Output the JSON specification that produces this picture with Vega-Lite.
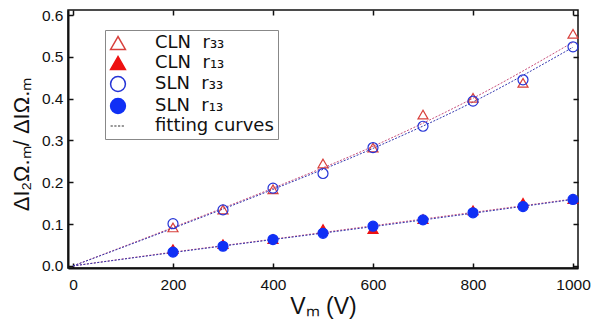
{
 "$schema": "https://vega.github.io/schema/vega-lite/v6.json",
 "width": 510, "height": 258,
 "autosize": "none",
 "padding": {"left": 68, "top": 10, "right": 14, "bottom": 52},
 "background": "white",
 "config": {
  "view": {"stroke": "#111", "strokeWidth": 1.5},
  "font": "Liberation Sans",
  "axis": {"grid": false, "domainColor": "#111", "tickColor": "#111", "labelColor": "#111", "titleColor": "#111", "labelFont": "Liberation Sans", "titleFont": "Liberation Sans", "titleFontWeight": "normal", "labelFontSize": 15.5, "titleFontSize": 22}
 },
 "datasets": {
  "pts": [
   {"v": 200, "y": 0.092, "s": "CLN\u00a0\u00a0r₃₃"}, {"v": 300, "y": 0.135, "s": "CLN\u00a0\u00a0r₃₃"}, {"v": 400, "y": 0.183, "s": "CLN\u00a0\u00a0r₃₃"}, {"v": 500, "y": 0.245, "s": "CLN\u00a0\u00a0r₃₃"}, {"v": 600, "y": 0.283, "s": "CLN\u00a0\u00a0r₃₃"}, {"v": 700, "y": 0.362, "s": "CLN\u00a0\u00a0r₃₃"}, {"v": 800, "y": 0.402, "s": "CLN\u00a0\u00a0r₃₃"}, {"v": 900, "y": 0.438, "s": "CLN\u00a0\u00a0r₃₃"}, {"v": 1000, "y": 0.555, "s": "CLN\u00a0\u00a0r₃₃"},
   {"v": 200, "y": 0.040, "s": "CLN\u00a0\u00a0r₁₃"}, {"v": 300, "y": 0.052, "s": "CLN\u00a0\u00a0r₁₃"}, {"v": 400, "y": 0.064, "s": "CLN\u00a0\u00a0r₁₃"}, {"v": 500, "y": 0.088, "s": "CLN\u00a0\u00a0r₁₃"}, {"v": 600, "y": 0.088, "s": "CLN\u00a0\u00a0r₁₃"}, {"v": 700, "y": 0.112, "s": "CLN\u00a0\u00a0r₁₃"}, {"v": 800, "y": 0.133, "s": "CLN\u00a0\u00a0r₁₃"}, {"v": 900, "y": 0.151, "s": "CLN\u00a0\u00a0r₁₃"}, {"v": 1000, "y": 0.160, "s": "CLN\u00a0\u00a0r₁₃"},
   {"v": 200, "y": 0.101, "s": "SLN\u00a0\u00a0r₃₃"}, {"v": 300, "y": 0.134, "s": "SLN\u00a0\u00a0r₃₃"}, {"v": 400, "y": 0.186, "s": "SLN\u00a0\u00a0r₃₃"}, {"v": 500, "y": 0.221, "s": "SLN\u00a0\u00a0r₃₃"}, {"v": 600, "y": 0.283, "s": "SLN\u00a0\u00a0r₃₃"}, {"v": 700, "y": 0.334, "s": "SLN\u00a0\u00a0r₃₃"}, {"v": 800, "y": 0.394, "s": "SLN\u00a0\u00a0r₃₃"}, {"v": 900, "y": 0.445, "s": "SLN\u00a0\u00a0r₃₃"}, {"v": 1000, "y": 0.524, "s": "SLN\u00a0\u00a0r₃₃"},
   {"v": 200, "y": 0.033, "s": "SLN\u00a0\u00a0r₁₃"}, {"v": 300, "y": 0.047, "s": "SLN\u00a0\u00a0r₁₃"}, {"v": 400, "y": 0.063, "s": "SLN\u00a0\u00a0r₁₃"}, {"v": 500, "y": 0.078, "s": "SLN\u00a0\u00a0r₁₃"}, {"v": 600, "y": 0.095, "s": "SLN\u00a0\u00a0r₁₃"}, {"v": 700, "y": 0.110, "s": "SLN\u00a0\u00a0r₁₃"}, {"v": 800, "y": 0.127, "s": "SLN\u00a0\u00a0r₁₃"}, {"v": 900, "y": 0.142, "s": "SLN\u00a0\u00a0r₁₃"}, {"v": 1000, "y": 0.159, "s": "SLN\u00a0\u00a0r₁₃"}
  ],
  "fit": [
   {"v": 0, "y": 0, "f": "CLN r33", "g": "CLN"}, {"v": 200, "y": 0.092, "f": "CLN r33", "g": "CLN"}, {"v": 400, "y": 0.186, "f": "CLN r33", "g": "CLN"}, {"v": 600, "y": 0.286, "f": "CLN r33", "g": "CLN"}, {"v": 800, "y": 0.401, "f": "CLN r33", "g": "CLN"}, {"v": 1000, "y": 0.535, "f": "CLN r33", "g": "CLN"},
   {"v": 0, "y": 0, "f": "CLN r13", "g": "CLN"}, {"v": 200, "y": 0.033, "f": "CLN r13", "g": "CLN"}, {"v": 400, "y": 0.064, "f": "CLN r13", "g": "CLN"}, {"v": 600, "y": 0.096, "f": "CLN r13", "g": "CLN"}, {"v": 800, "y": 0.128, "f": "CLN r13", "g": "CLN"}, {"v": 1000, "y": 0.160, "f": "CLN r13", "g": "CLN"},
   {"v": 0, "y": 0, "f": "SLN r33", "g": "SLN"}, {"v": 200, "y": 0.090, "f": "SLN r33", "g": "SLN"}, {"v": 400, "y": 0.183, "f": "SLN r33", "g": "SLN"}, {"v": 600, "y": 0.281, "f": "SLN r33", "g": "SLN"}, {"v": 800, "y": 0.392, "f": "SLN r33", "g": "SLN"}, {"v": 1000, "y": 0.523, "f": "SLN r33", "g": "SLN"},
   {"v": 0, "y": 0, "f": "SLN r13", "g": "SLN"}, {"v": 200, "y": 0.032, "f": "SLN r13", "g": "SLN"}, {"v": 400, "y": 0.063, "f": "SLN r13", "g": "SLN"}, {"v": 600, "y": 0.094, "f": "SLN r13", "g": "SLN"}, {"v": 800, "y": 0.126, "f": "SLN r13", "g": "SLN"}, {"v": 1000, "y": 0.159, "f": "SLN r13", "g": "SLN"}
  ]
 },
 "layer": [
  {
   "data": {"name": "fit"},
   "transform": [{"filter": "datum.g == 'CLN'"}],
   "mark": {"type": "line", "color": "#c8507c", "strokeWidth": 1, "strokeDash": [2, 1.5], "interpolate": "monotone"},
   "encoding": {
    "x": {"field": "v", "type": "quantitative", "scale": {"domain": [-10, 1010], "nice": false, "zero": false},
      "axis": {"orient": "bottom", "values": [0, 200, 400, 600, 800, 1000], "format": "d", "labelBound": false, "tickSize": -5, "tickWidth": 1.5, "domainWidth": 2, "labelPadding": 14, "title": "Vₘ (V)", "titleFontSize": 23, "titlePadding": 3}},
    "y": {"field": "y", "type": "quantitative", "scale": {"domain": [-0.005, 0.612], "nice": false, "zero": false},
      "axis": {"orient": "left", "values": [0, 0.1, 0.2, 0.3, 0.4, 0.5, 0.6], "format": ".1f", "tickSize": -5, "tickWidth": 1.5, "domainWidth": 2, "labelPadding": 10, "title": "ΔI₂Ω.ₘ/ ΔIΩ.ₘ", "titleFontSize": 22, "titlePadding": 8, "titleY": 134}},
    "detail": {"field": "f"}
   }
  },
  {
   "data": {"name": "fit"},
   "transform": [{"filter": "datum.g == 'SLN'"}],
   "mark": {"type": "line", "color": "#3438b0", "strokeWidth": 1, "strokeDash": [2, 1.5], "interpolate": "monotone"},
   "encoding": {
    "x": {"field": "v", "type": "quantitative", "axis": {"orient": "top", "values": [0, 200, 400, 600, 800, 1000], "labels": false, "title": null, "tickSize": -5, "tickWidth": 1.5, "domain": false}},
    "y": {"field": "y", "type": "quantitative", "axis": {"orient": "right", "values": [0, 0.1, 0.2, 0.3, 0.4, 0.5, 0.6], "labels": false, "title": null, "tickSize": -5, "tickWidth": 1.5, "domain": false}},
    "detail": {"field": "f"}
   }
  },
  {
   "data": {"name": "pts"},
   "mark": {"type": "point", "size": 100, "strokeWidth": 1.2, "opacity": 1},
   "encoding": {
    "x": {"field": "v", "type": "quantitative", "axis": null},
    "y": {"field": "y", "type": "quantitative", "axis": null},
    "shape": {"field": "s", "type": "nominal",
      "scale": {"domain": ["CLN\u00a0\u00a0r₃₃", "CLN\u00a0\u00a0r₁₃", "SLN\u00a0\u00a0r₃₃", "SLN\u00a0\u00a0r₁₃", "\u00a0\u00a0fitting curves"], "range": ["triangle-up", "triangle-up", "circle", "circle", "M-1,0H-0.7M-0.5,0H-0.2M0,0H0.3M0.5,0H0.8"]},
      "legend": {"title": null, "orient": "none", "legendX": 37, "legendY": 20, "fillColor": "white", "strokeColor": "#888", "padding": 4, "symbolSize": 220, "symbolStrokeWidth": 1.5, "labelFontSize": 18, "labelFont": "DejaVu Sans", "labelColor": "#111", "labelOffset": 28, "rowPadding": 0, "symbolOpacity": 1}},
    "stroke": {"field": "s", "type": "nominal",
      "scale": {"domain": ["CLN\u00a0\u00a0r₃₃", "CLN\u00a0\u00a0r₁₃", "SLN\u00a0\u00a0r₃₃", "SLN\u00a0\u00a0r₁₃", "\u00a0\u00a0fitting curves"], "range": ["#d8403c", "#ee1111", "#2433d6", "#1030f5", "#777"]}},
    "fill": {"field": "s", "type": "nominal",
      "scale": {"domain": ["CLN\u00a0\u00a0r₃₃", "CLN\u00a0\u00a0r₁₃", "SLN\u00a0\u00a0r₃₃", "SLN\u00a0\u00a0r₁₃", "\u00a0\u00a0fitting curves"], "range": ["transparent", "#ee1111", "transparent", "#1030f5", "transparent"]}}
   }
  }
 ],
 "resolve": {"axis": {"x": "independent", "y": "independent"}}
}
